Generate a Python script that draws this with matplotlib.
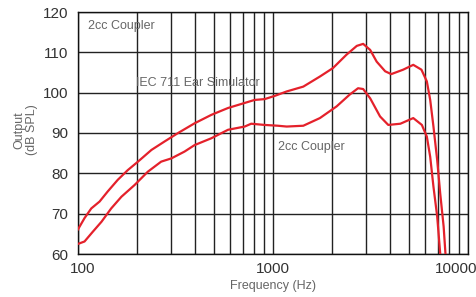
import numpy as np
import matplotlib
matplotlib.use("Agg")
import matplotlib.pyplot as plt
import matplotlib.transforms as mtransforms

# IEC 711 ear simulator response (Hz, dB SPL)
iec_freq = [100, 108, 117, 129, 142, 160, 180, 203, 238, 278, 326, 396, 483, 588,
            688, 805, 906, 1020, 1175, 1430, 1740, 2030, 2380, 2690, 2900, 3150,
            3400, 3760, 4040, 4650, 5240, 5770, 6150, 6400, 6650, 6950, 7200, 7500,
            7660, 7800]
iec_db = [66.1, 68.9, 71.3, 73.0, 75.5, 78.4, 80.8, 82.9, 85.8, 87.9, 90.0, 92.4,
          94.5, 96.2, 97.2, 98.2, 98.4, 99.2, 100.3, 101.5, 104.0, 106.1, 109.4,
          111.6, 112.1, 110.6, 107.7, 105.3, 104.6, 105.7, 106.9, 105.7, 102.8,
          98.2, 91.6, 83.3, 75.1, 66.8, 60.2, 56.0]

# 2cc coupler response
cpl_freq = [100, 108, 119, 132, 148, 167, 195, 228, 267, 301, 352, 396, 483, 588,
            716, 773, 906, 1060, 1175, 1430, 1740, 2120, 2470, 2730, 2900, 3150,
            3540, 3900, 4500, 5240, 5800, 6150, 6400, 6650, 6950, 7200, 7400]
cpl_db = [62.5, 63.1, 65.5, 68.0, 71.3, 74.2, 77.1, 80.4, 82.9, 83.7, 85.4, 87.0,
          88.7, 90.8, 91.6, 92.3, 92.0, 91.8, 91.6, 91.8, 93.7, 96.6, 99.5, 101.1,
          100.9, 98.6, 94.1, 92.0, 92.3, 93.7, 92.0, 89.1, 84.1, 76.7, 69.3, 60.2,
          55.0]

x_ticks = [100, 1000, 10000]
x_ticklabels = ["100", "1000", "10000"]
y_ticks = [60, 70, 80, 90, 100, 110, 120]

plt.rcParams['font.family'] = ['Liberation Sans', 'DejaVu Sans']

fig = plt.figure(figsize=(4.77, 2.97), dpi=100)
ax = fig.add_axes([78 / 477, 1 - 254 / 297, 390 / 477, 242 / 297])

red = '#e4212b'
ax.plot(iec_freq, iec_db, color=red, lw=1.6, zorder=3, solid_joinstyle='round')
ax.plot(cpl_freq, cpl_db, color=red, lw=1.6, zorder=3, solid_joinstyle='round')

ax.set_xscale('log')
ax.set_xlim(100, 10000)
ax.set_ylim(60, 120)
ax.set_xticks(x_ticks)
ax.set_xticklabels(x_ticklabels)
ax.set_yticks(y_ticks)
ax.xaxis.set_minor_locator(matplotlib.ticker.LogLocator(base=10, subs=np.arange(2, 10)))
ax.xaxis.set_minor_formatter(matplotlib.ticker.NullFormatter())

ax.grid(True, which='both', axis='x', color='#222222', lw=1.0)
ax.grid(True, which='major', axis='y', color='#222222', lw=1.0)
ax.tick_params(which='both', length=0)
ax.tick_params(axis='y', pad=7, labelsize=11, labelcolor='#333333')
ax.tick_params(axis='x', pad=6, labelsize=11, labelcolor='#333333')
for s in ax.spines.values():
    s.set_color('#111111')
    s.set_linewidth(1.0)

# nudge end tick labels to stay inside the figure
labels = ax.get_xticklabels()
labels[0].set_transform(labels[0].get_transform() +
                        mtransforms.ScaledTranslation(5 / 100, 0, fig.dpi_scale_trans))
labels[-1].set_transform(labels[-1].get_transform() +
                         mtransforms.ScaledTranslation(-12 / 100, 0, fig.dpi_scale_trans))

ax.set_xlabel("Frequency (Hz)", fontsize=9, color='#666666', labelpad=3)
fig.text(26 / 477, 1 - 130 / 297, "Output\n(dB SPL)", rotation=90, ha='center',
         va='center', fontsize=9, color='#666666', linespacing=1.1)

ax.text(88 / 477, 1 - 26 / 297, "2cc Coupler", transform=fig.transFigure,
        fontsize=9, color='#666666', va='center')
ax.text(136 / 477, 1 - 83 / 297, "IEC 711 Ear Simulator", transform=fig.transFigure,
        fontsize=9, color='#666666', va='center')
ax.text(278 / 477, 1 - 147 / 297, "2cc Coupler", transform=fig.transFigure,
        fontsize=9, color='#666666', va='center')

fig.savefig("out.png", dpi=100)
